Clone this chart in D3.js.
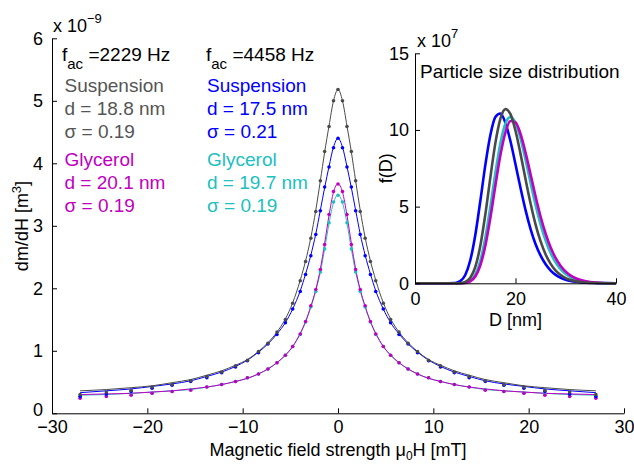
<!DOCTYPE html>
<html><head><meta charset="utf-8">
<script src="https://cdn.jsdelivr.net/npm/d3@7"></script>
<style>
html,body{margin:0;padding:0;background:#fff;}
svg{display:block;font-family:"Liberation Sans",Arial,Helvetica,sans-serif;}
</style></head>
<body><svg id="c" width="634" height="464"></svg>
<script>
// ---------- main plot data ----------
const fieldX = [-27.05,-24.3,-21.7,-19.5,-17.4,-15.45,-13.76,-12.2,-10.75,-9.5,-8.34,-7.35,-6.4,-5.52,-4.75,-3.96,-3.4,-2.85,-2.33,-1.85,-1.4,-0.94,-0.47,0,0.47,0.94,1.4,1.85,2.33,2.85,3.4,3.96,4.75,5.52,6.4,7.35,8.34,9.5,10.75,12.2,13.76,15.45,17.4,19.5,21.7,24.3,27.05];
const susp2229Dots = [0.30,0.34,0.37,0.42,0.46,0.52,0.59,0.66,0.76,0.85,0.99,1.12,1.3,1.5,1.76,2.12,2.43,2.8,3.23,3.72,4.19,4.59,5.0,5.18,5.0,4.59,4.19,3.72,3.23,2.8,2.43,2.12,1.76,1.5,1.3,1.12,0.99,0.85,0.76,0.66,0.59,0.52,0.46,0.42,0.37,0.34,0.30];
const susp2229Fit  = [0.36,0.38,0.41,0.44,0.49,0.54,0.61,0.68,0.77,0.86,0.99,1.13,1.3,1.51,1.77,2.13,2.44,2.81,3.25,3.72,4.18,4.6,5.0,5.18,5.0,4.6,4.18,3.72,3.25,2.81,2.44,2.13,1.77,1.51,1.3,1.13,0.99,0.86,0.77,0.68,0.61,0.54,0.49,0.44,0.41,0.38,0.36];
const susp4458Dots = [0.27,0.31,0.35,0.40,0.45,0.51,0.57,0.65,0.74,0.84,0.97,1.11,1.26,1.45,1.67,1.95,2.22,2.52,2.86,3.24,3.62,3.94,4.25,4.40,4.25,3.94,3.62,3.24,2.86,2.52,2.22,1.95,1.67,1.45,1.26,1.11,0.97,0.84,0.74,0.65,0.57,0.51,0.45,0.40,0.35,0.31,0.27];
const susp4458Fit  = [0.33,0.36,0.39,0.43,0.47,0.52,0.59,0.66,0.75,0.85,0.98,1.11,1.27,1.45,1.67,1.96,2.23,2.53,2.87,3.25,3.61,3.95,4.26,4.40,4.26,3.95,3.61,3.25,2.87,2.53,2.23,1.96,1.67,1.45,1.27,1.11,0.98,0.85,0.75,0.66,0.59,0.52,0.47,0.43,0.39,0.36,0.33];
const glyc2229Dots = [0.24,0.27,0.29,0.32,0.35,0.37,0.42,0.46,0.51,0.57,0.63,0.71,0.81,0.93,1.07,1.27,1.47,1.72,1.98,2.3,2.7,3.18,3.55,3.67,3.55,3.18,2.7,2.3,1.98,1.72,1.47,1.27,1.07,0.93,0.81,0.71,0.63,0.57,0.51,0.46,0.42,0.37,0.35,0.32,0.29,0.27,0.24];
const glyc2229Fit  = [0.30,0.31,0.32,0.34,0.36,0.39,0.42,0.46,0.51,0.56,0.63,0.71,0.81,0.93,1.07,1.28,1.47,1.71,1.98,2.31,2.72,3.17,3.54,3.67,3.54,3.17,2.72,2.31,1.98,1.71,1.47,1.28,1.07,0.93,0.81,0.71,0.63,0.56,0.51,0.46,0.42,0.39,0.36,0.34,0.32,0.31,0.30];
const glyc4458Dots = [0.27,0.28,0.30,0.32,0.35,0.38,0.42,0.46,0.51,0.57,0.63,0.71,0.81,0.93,1.07,1.26,1.46,1.70,1.95,2.26,2.63,3.05,3.38,3.49,3.38,3.05,2.63,2.26,1.95,1.70,1.46,1.26,1.07,0.93,0.81,0.71,0.63,0.57,0.51,0.46,0.42,0.38,0.35,0.32,0.30,0.28,0.27];
const glyc4458Fit  = [0.29,0.30,0.32,0.34,0.36,0.38,0.42,0.46,0.51,0.56,0.63,0.71,0.81,0.93,1.07,1.27,1.46,1.70,1.96,2.26,2.63,3.04,3.37,3.49,3.37,3.04,2.63,2.26,1.96,1.70,1.46,1.27,1.07,0.93,0.81,0.71,0.63,0.56,0.51,0.46,0.42,0.38,0.36,0.34,0.32,0.30,0.29];
const xTicks = [-30,-20,-10,0,10,20,30];
const xTickLabels = ["\u221230","\u221220","\u221210","0","10","20","30"];
const yTicks = [0,1,2,3,4,5,6];

// ---------- inset data (f(D) in units of 1e7) ----------
const sizeD = [0,5,8,9,10,11,12,13,14,15,16,17,18,19,20,21,22,23,24,25,26,27,28,29,30,31,32,33,34,36,38,40];
const distSusp2229 = [0,0,0.001,0.013,0.085,0.357,1.07,2.45,4.50,6.91,9.16,10.74,11.36,11.03,9.95,8.44,6.78,5.20,3.83,2.73,1.88,1.27,0.83,0.54,0.34,0.21,0.13,0.08,0.048,0.017,0.006,0.002];
const distSusp4458 = [0,0,0.023,0.14,0.545,1.50,3.15,5.37,7.72,9.67,10.84,11.07,10.46,9.26,7.76,6.21,4.77,3.54,2.55,1.80,1.24,0.83,0.55,0.36,0.235,0.15,0.096,0.06,0.037,0.014,0.005,0.002];
const distGlyc2229 = [0,0,0.001,0.004,0.025,0.124,0.44,1.17,2.45,4.27,6.38,8.37,9.85,10.58,10.5,9.74,8.52,7.10,5.66,4.34,3.23,2.33,1.64,1.13,0.76,0.50,0.33,0.21,0.135,0.053,0.02,0.007];
const distGlyc4458 = [0,0,0.001,0.006,0.036,0.173,0.58,1.47,2.98,5.0,7.21,9.14,10.42,10.85,10.47,9.45,8.06,6.55,5.10,3.83,2.78,1.96,1.35,0.91,0.60,0.39,0.25,0.16,0.10,0.038,0.014,0.005];
const insetXTicks = [0,20,40];
const insetYTicks = [0,5,10,15];

// ---------- colours ----------
const cGrey = "#4a4a4a", cGreyText = "#555555", cBlue = "#0000ff", cMag = "#bf00bf", cCyan = "#20c0c0";

const svg = d3.select("#c");
const FS = 18;

// ===== main axes =====
const x = d3.scaleLinear().domain([-30,30]).range([52,624]);
const y = d3.scaleLinear().domain([0,6]).range([413.3,38.3]);

const series = [
  {dots: glyc4458Dots, fit: glyc4458Fit, color: cCyan},
  {dots: glyc2229Dots, fit: glyc2229Fit, color: cMag},
  {dots: susp4458Dots, fit: susp4458Fit, color: cBlue},
  {dots: susp2229Dots, fit: susp2229Fit, color: cGrey}
];
const line = d3.line().x((d,i)=>x(fieldX[i])).y(d=>y(d)).curve(d3.curveMonotoneX);
const gData = svg.append("g");
series.forEach(s=>{
  gData.append("path").attr("d", line(s.fit)).attr("fill","none").attr("stroke", s.color).attr("stroke-width",1);
});
series.forEach(s=>{
  gData.selectAll(null).data(s.dots).enter().append("circle")
    .attr("cx",(d,i)=>x(fieldX[i])).attr("cy",d=>y(d)).attr("r",1.8).attr("fill",s.color);
});

const xAxis = d3.axisBottom(x).tickValues(xTicks).tickFormat((d,i)=>xTickLabels[i]).tickSizeInner(-5).tickSizeOuter(0).tickPadding(7);
const gx = svg.append("g").attr("transform","translate(0,413.3)").call(xAxis);
const yAxis = d3.axisLeft(y).tickValues(yTicks).tickFormat(d3.format("d")).tickSizeInner(-5).tickSizeOuter(0).tickPadding(9);
const gy = svg.append("g").attr("transform","translate(52,0)").call(yAxis);
[gx,gy].forEach(g=>{
  g.select(".domain").attr("stroke","#000");
  g.selectAll(".tick line").attr("stroke","#000");
  g.selectAll(".tick text").attr("font-size",FS).attr("fill","#000").attr("font-family","Liberation Sans, Arial, sans-serif");
});
gx.selectAll(".tick text").attr("dy","0.71em");
gy.selectAll(".tick text").filter(d=>d===0).attr("dy","0.1em");

// exponent label
const ex = svg.append("text").attr("x",53).attr("y",32).attr("font-size",FS).attr("fill","#000");
ex.append("tspan").text("x 10");
ex.append("tspan").attr("dy",-9).attr("font-size",13).text("\u22129");

// axis labels
const yl = svg.append("text").attr("transform","translate(28,226) rotate(-90)").attr("text-anchor","middle").attr("font-size",FS).attr("fill","#000");
yl.append("tspan").text("dm/dH [m");
yl.append("tspan").attr("dy",-7).attr("font-size",13).text("3");
yl.append("tspan").attr("dy",7).text("]");

const xl = svg.append("text").attr("x",338).attr("y",456).attr("text-anchor","middle").attr("font-size",FS).attr("fill","#000");
xl.append("tspan").text("Magnetic field strength \u03bc");
xl.append("tspan").attr("dy",3.5).attr("font-size",12).text("0");
xl.append("tspan").attr("dy",-3.5).text("H [mT]");

// annotation text
function fac(xp, val){
  const t = svg.append("text").attr("x",xp).attr("y",61).attr("font-size",19).attr("fill","#000");
  t.append("tspan").text("f");
  t.append("tspan").attr("dy",8).attr("font-size",15).text("ac");
  t.append("tspan").attr("dy",-8).text(" =" + val + " Hz");
}
fac(62,"2229");
fac(206,"4458");
function block(xp, ys, lines, color){
  lines.forEach((s,i)=>{
    svg.append("text").attr("x",xp).attr("y",ys[i]).attr("font-size",19).attr("fill",color).text(s);
  });
}
block(64.5,[91.5,114.5,137.5],["Suspension","d = 18.8 nm","\u03c3 = 0.19"],cGreyText);
block(64.5,[166,189,212],["Glycerol","d = 20.1 nm","\u03c3 = 0.19"],cMag);
block(207,[92,115,138],["Suspension","d = 17.5 nm","\u03c3 = 0.21"],cBlue);
block(207,[166,189,212],["Glycerol","d = 19.7 nm","\u03c3 = 0.19"],cCyan);

// ===== inset =====
const ix = d3.scaleLinear().domain([0,40]).range([415,616]);
const iy = d3.scaleLinear().domain([0,15]).range([283.3,53.3]);
const ginset = svg.append("g");
const iline = d3.line().x((d,i)=>ix(sizeD[i])).y(d=>iy(d)).curve(d3.curveMonotoneX);
[[distSusp4458,cBlue],[distGlyc4458,cCyan],[distGlyc2229,cMag],[distSusp2229,cGrey]].forEach(([arr,c])=>{
  ginset.append("path").attr("d",iline(arr)).attr("fill","none").attr("stroke",c).attr("stroke-width",2.6).attr("stroke-linejoin","round");
});
const ixAxis = d3.axisBottom(ix).tickValues(insetXTicks).tickFormat(d3.format("d")).tickSizeInner(-5).tickSizeOuter(0).tickPadding(9);
const gix = svg.append("g").attr("transform","translate(0,283.3)").call(ixAxis);
const iyAxis = d3.axisLeft(iy).tickValues(insetYTicks).tickFormat(d3.format("d")).tickSizeInner(-5).tickSizeOuter(0).tickPadding(6);
const giy = svg.append("g").attr("transform","translate(415,0)").call(iyAxis);
[gix,giy].forEach(g=>{
  g.select(".domain").attr("stroke","#000");
  g.selectAll(".tick line").attr("stroke","#000");
  g.selectAll(".tick text").attr("font-size",FS).attr("fill","#000").attr("font-family","Liberation Sans, Arial, sans-serif");
});
gix.selectAll(".tick text").attr("dy","0.71em");

const iex = svg.append("text").attr("x",417).attr("y",47).attr("font-size",FS).attr("fill","#000");
iex.append("tspan").text("x 10");
iex.append("tspan").attr("dy",-9).attr("font-size",13).text("7");

svg.append("text").attr("x",420).attr("y",78).attr("font-size",19).attr("fill","#000").text("Particle size distribution");
svg.append("text").attr("transform","translate(392,168.3) rotate(-90)").attr("text-anchor","middle").attr("font-size",FS).attr("fill","#000").text("f(D)");
svg.append("text").attr("x",515.5).attr("y",326).attr("text-anchor","middle").attr("font-size",FS).attr("fill","#000").text("D [nm]");
</script>
</body></html>
